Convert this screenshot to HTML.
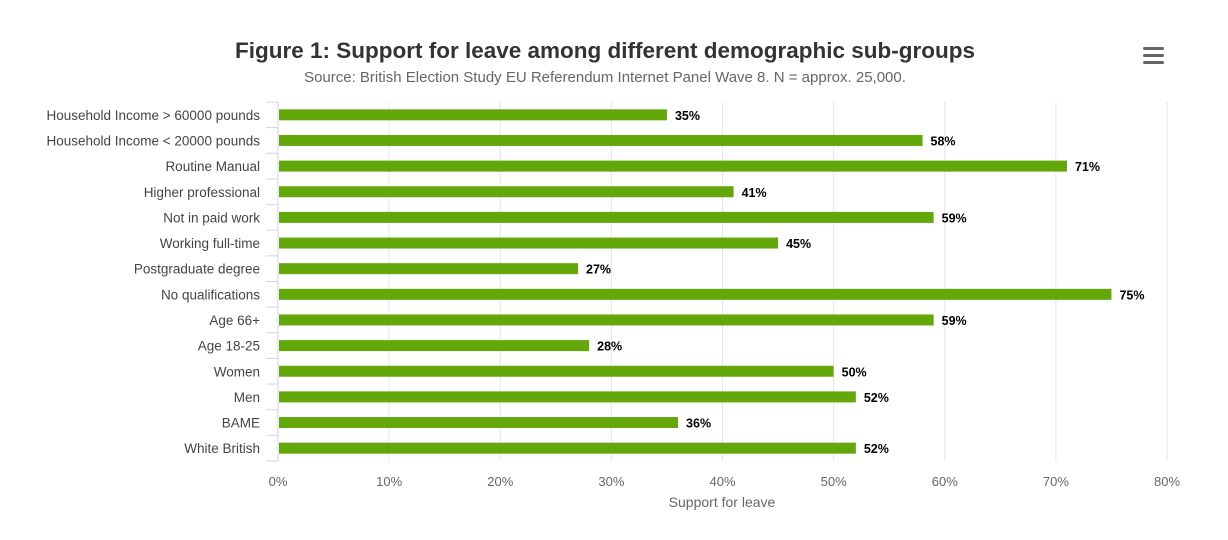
<!DOCTYPE html>
<html><head><meta charset="utf-8"><style>
body{margin:0;background:#fff;font-family:"Liberation Sans",sans-serif}
</style></head><body>
<svg id="chart" width="1228" height="535" xmlns="http://www.w3.org/2000/svg" font-family="Liberation Sans, sans-serif">
<text x="605" y="58" text-anchor="middle" font-size="22.5" font-weight="bold" fill="#333">Figure 1: Support for leave among different demographic sub-groups</text>
<text x="605" y="82" text-anchor="middle" font-size="15" fill="#666">Source: British Election Study EU Referendum Internet Panel Wave 8. N = approx. 25,000.</text>
<g>
<rect x="1143" y="47" width="21" height="3" rx="1.5" fill="#666"/>
<rect x="1143" y="54" width="21" height="3" rx="1.5" fill="#666"/>
<rect x="1143" y="61" width="21" height="3" rx="1.5" fill="#666"/>
</g>
<g id="grid"></g><g id="bars"></g><g id="labels"></g>
<text x="722" y="507" text-anchor="middle" font-size="14" fill="#666">Support for leave</text>
</svg>
<script>
const categories=["Household Income > 60000 pounds","Household Income < 20000 pounds","Routine Manual","Higher professional","Not in paid work","Working full-time","Postgraduate degree","No qualifications","Age 66+","Age 18-25","Women","Men","BAME","White British"];
const values=[35,58,71,41,59,45,27,75,59,28,50,52,36,52];
const xTicks=[0,10,20,30,40,50,60,70,80];
const NS="http://www.w3.org/2000/svg";
const X0=278,X1=1167,TOPY=102,BOTY=461,xMax=80;
const xs=v=>X0+(X1-X0)*v/xMax;
const rowH=(BOTY-TOPY)/categories.length;
const ys=i=>TOPY+rowH*(i+0.5);
function mk(t,a,p){const e=document.createElementNS(NS,t);for(const k in a)e.setAttribute(k,a[k]);p.appendChild(e);return e;}
const grid=document.getElementById('grid'),bars=document.getElementById('bars'),labels=document.getElementById('labels');
xTicks.forEach(t=>{
 if(t>0){const l=mk('line',{x1:xs(t),x2:xs(t),y1:TOPY,y2:BOTY,stroke:'#e6e6e6'},grid);
 
 }
 const tx=mk('text',{x:xs(t),y:BOTY+25,'text-anchor':'middle','font-size':13,fill:'#666'},labels);
 tx.textContent=t+'%';
 
 
});
const ax=mk('line',{x1:X0,x2:X0,y1:TOPY,y2:BOTY,stroke:'#ccd6eb'},grid);


for(let i=0;i<=categories.length;i++){
 const y=TOPY+rowH*i;
 const tk=mk('line',{x1:X0-12,x2:X0,y1:y,y2:y,stroke:'#ccd6eb'},grid);
 
 
}
categories.forEach((c,i)=>{
 const y=ys(i);
 const t=mk('text',{x:260,y:y+5,'text-anchor':'end','font-size':13.5,fill:'#444'},labels);
 t.textContent=c;
 
 
 const b=mk('rect',{x:X0+1,y:y-5.5,width:xs(values[i])-X0-1,height:11,fill:'#64a70b'},bars);
 
 
 const v=mk('text',{x:xs(values[i])+8,y:y+5,'font-size':12.5,'font-weight':'bold',fill:'#000'},labels);
 v.textContent=values[i]+'%';
 
 
});
</script>
</body></html>
